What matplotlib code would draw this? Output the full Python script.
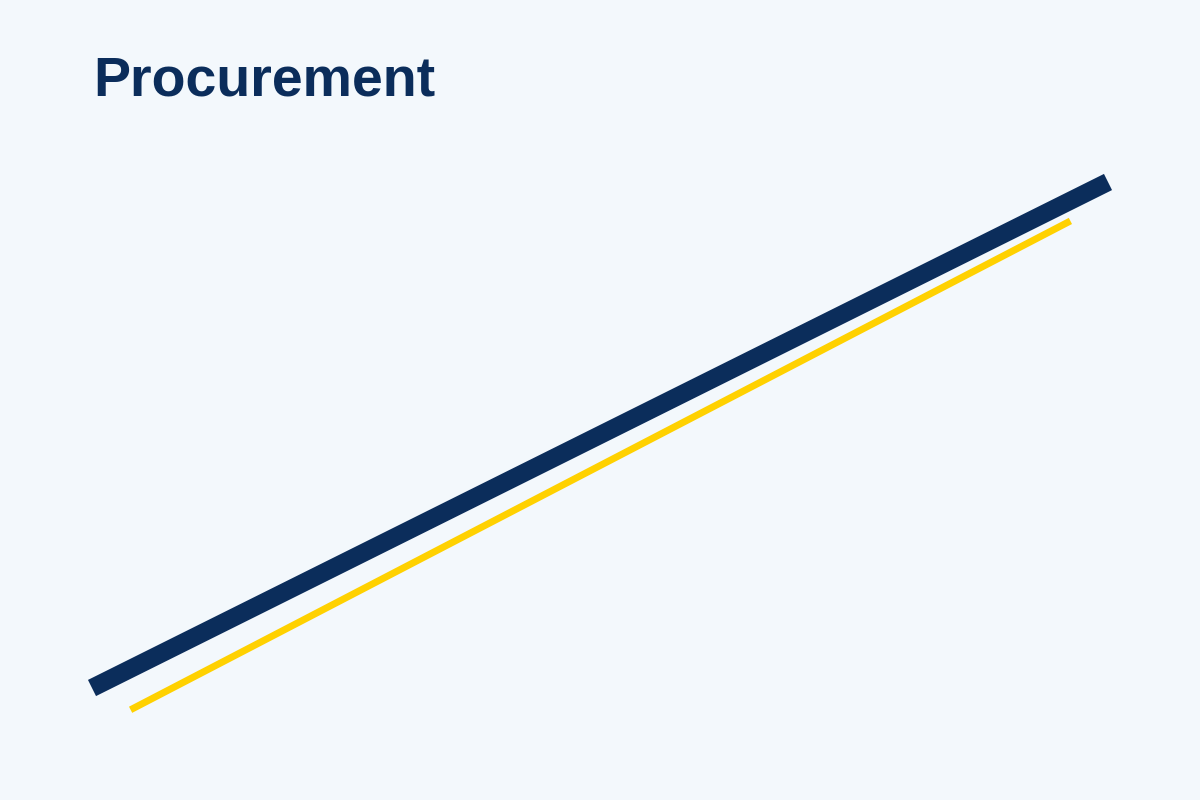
import matplotlib.pyplot as plt

BG = "#F3F8FC"
NAVY = "#0B2D5B"
GOLD = "#FFD100"

# series values
navy_x = [0.0, 1.0]
navy_y = [0.0, 1.0]
gold_x = [0.038, 0.963]
gold_y = [-0.043, 0.923]

fig = plt.figure(figsize=(12, 8), dpi=100)
fig.patch.set_facecolor(BG)
ax = fig.add_axes([92 / 1200, 1 - 688 / 800, 1016 / 1200, 506 / 800])
ax.set_facecolor(BG)
ax.set_xlim(0, 1)
ax.set_ylim(0, 1)
ax.axis("off")

ax.plot(navy_x, navy_y, color=NAVY, lw=13, solid_capstyle="butt", clip_on=False)
ax.plot(gold_x, gold_y, color=GOLD, lw=5, solid_capstyle="butt", clip_on=False)

fig.text(93 / 1200, 1 - 95 / 800, "Procurement", color=NAVY, fontsize=40,
         fontweight="bold", family="Liberation Sans", ha="left", va="baseline")

fig.savefig("out.png", dpi=100, facecolor=BG)
